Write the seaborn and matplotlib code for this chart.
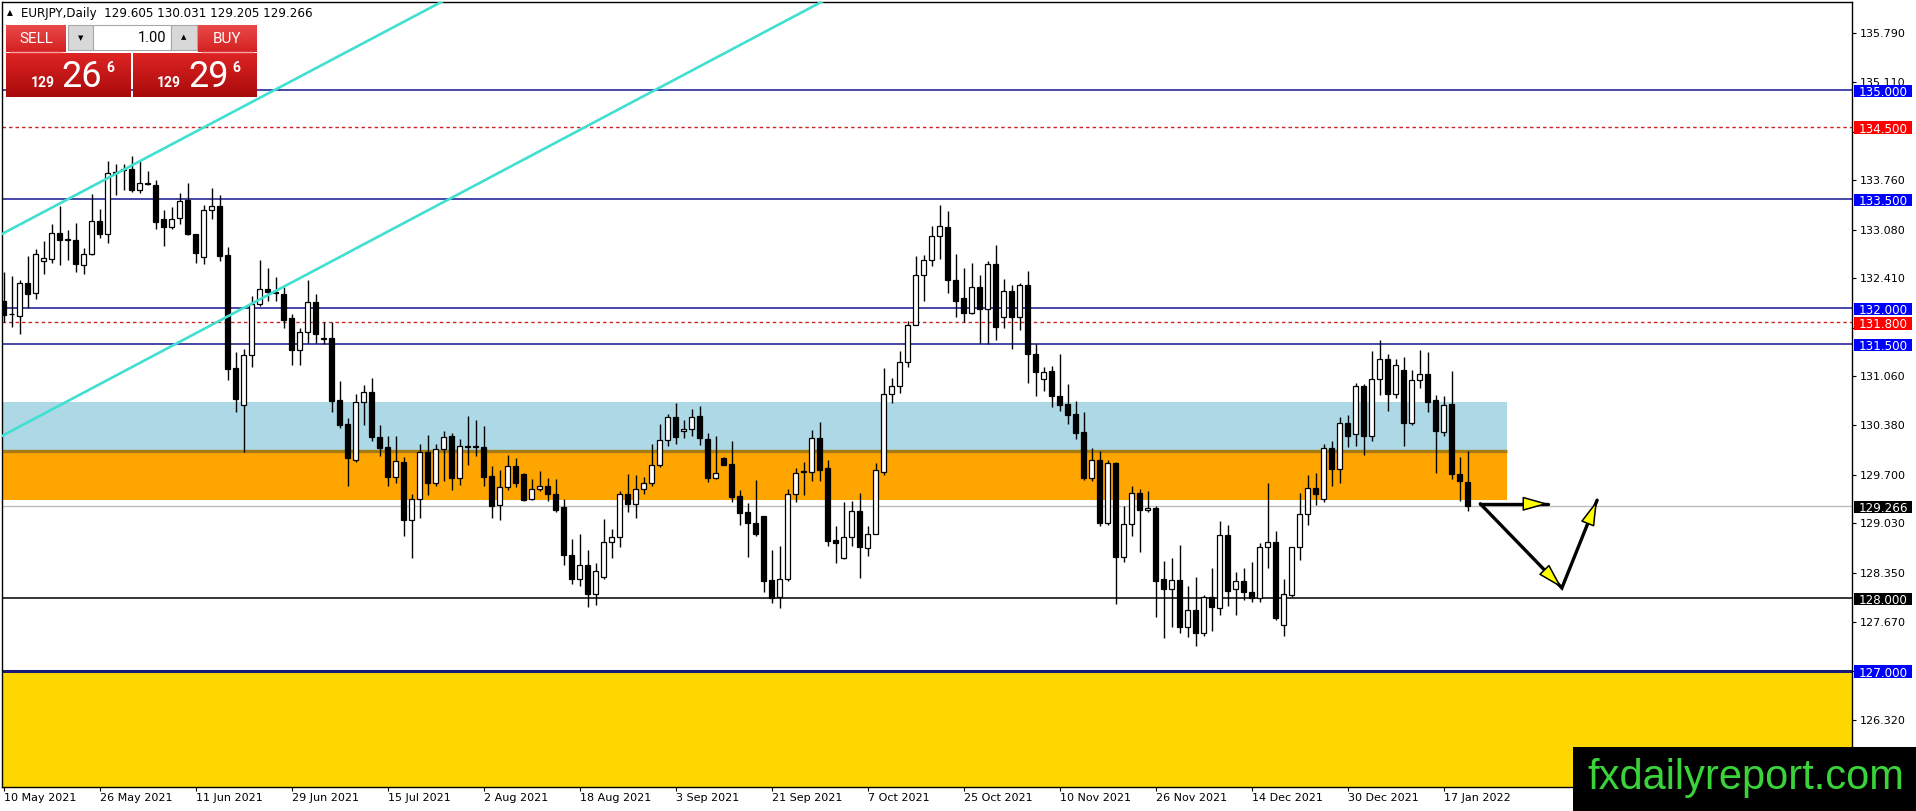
import numpy as np
import pandas as pd
import matplotlib
matplotlib.use("Agg")
import matplotlib.pyplot as plt
import seaborn as sns
from matplotlib.patches import Rectangle
from matplotlib.transforms import blended_transform_factory
from matplotlib.colors import LinearSegmentedColormap

# ---------------- data (EURJPY daily) ----------------
opens = [
    132.10, 131.92, 131.89, 132.34, 132.20, 132.64, 132.68, 133.03, 132.95, 132.94,
    132.59, 132.74, 133.20, 133.02, 133.87, 133.90, 133.92, 133.62, 133.72, 133.70,
    133.23, 133.11, 133.24, 133.49, 133.02, 132.70, 133.35, 133.41, 132.73, 131.17,
    130.66, 131.35, 132.05, 132.26, 132.22, 132.19, 131.86, 131.42, 131.67, 132.08,
    131.59, 131.58, 130.73, 130.40, 129.91, 130.71, 130.84, 130.22, 130.08, 129.67,
    129.87, 129.07, 129.36, 130.02, 129.58, 130.05, 130.23, 129.66, 130.09, 130.09,
    130.08, 129.68, 129.29, 129.53, 129.82, 129.71, 129.36, 129.51, 129.55, 129.44,
    129.26, 128.59, 128.26, 128.45, 128.05, 128.29, 128.77, 128.84, 129.43, 129.30,
    129.51, 129.58, 129.84, 130.18, 130.49, 130.30, 130.33, 130.51, 130.19, 129.66,
    129.93, 129.85, 129.41, 129.18, 129.03, 129.13, 128.25, 128.01, 128.26, 129.44,
    129.75, 129.74, 130.20, 129.79, 128.80, 128.55, 128.84, 129.20, 128.69, 128.89,
    129.74, 130.82, 130.92, 131.25, 131.77, 132.45, 132.66, 132.99, 133.11, 132.39,
    132.13, 131.93, 132.29, 131.99, 132.61, 131.87, 132.23, 131.88, 132.31, 131.36,
    131.02, 131.13, 130.79, 130.67, 130.54, 130.29, 129.66, 129.91, 129.03, 129.86,
    128.57, 129.02, 129.45, 129.21, 129.24, 128.27, 128.12, 128.25, 127.60, 127.83,
    127.52, 128.01, 127.87, 128.87, 128.12, 128.23, 128.08, 128.00, 128.71, 128.77,
    127.63, 128.04, 128.70, 129.16, 129.52, 129.36, 130.07, 129.78, 130.41, 130.26,
    130.93, 130.23, 131.02, 131.29, 130.81, 131.15, 130.41, 131.00, 131.09, 130.73,
    130.29, 130.67, 129.71, 129.605]
highs = [
    132.49, 132.44, 132.39, 132.71, 132.81, 132.92, 133.16, 133.40, 133.07, 133.17,
    132.82, 133.57, 133.37, 134.03, 133.98, 133.98, 134.10, 134.03, 133.89, 133.76,
    133.35, 133.39, 133.59, 133.72, 133.02, 133.42, 133.65, 133.56, 132.84, 131.39,
    131.44, 132.17, 132.66, 132.55, 132.43, 132.29, 131.92, 131.73, 132.39, 132.19,
    131.81, 131.81, 130.99, 130.48, 130.82, 130.94, 131.03, 130.38, 130.23, 130.23,
    129.95, 129.44, 130.13, 130.25, 130.13, 130.30, 130.27, 130.19, 130.51, 130.46,
    130.37, 129.82, 129.77, 129.97, 129.93, 129.72, 129.64, 129.75, 129.65, 129.64,
    129.37, 128.82, 128.89, 128.66, 128.48, 129.09, 128.95, 129.48, 129.71, 129.70,
    129.67, 130.12, 130.40, 130.54, 130.69, 130.45, 130.61, 130.65, 130.27, 130.23,
    129.94, 130.16, 129.49, 129.31, 129.63, 129.13, 128.66, 128.72, 129.50, 129.80,
    129.88, 130.32, 130.43, 129.91, 128.99, 129.32, 129.34, 129.45, 128.99, 129.86,
    131.17, 131.03, 131.40, 131.82, 132.72, 132.73, 133.13, 133.42, 133.33, 132.74,
    132.55, 132.62, 132.45, 132.65, 132.87, 132.40, 132.32, 132.35, 132.51, 131.50,
    131.19, 131.20, 131.37, 130.95, 130.72, 130.56, 130.07, 130.03, 129.90, 129.88,
    129.27, 129.55, 129.51, 129.48, 129.27, 128.51, 128.55, 128.73, 128.17, 128.29,
    128.04, 128.41, 129.06, 129.01, 128.36, 128.41, 128.50, 128.76, 129.59, 128.93,
    128.26, 128.70, 129.45, 129.70, 129.72, 130.13, 130.17, 130.50, 130.53, 130.97,
    130.95, 131.41, 131.56, 131.37, 131.30, 131.32, 131.15, 131.42, 131.39, 130.80,
    130.79, 131.13, 129.94, 130.031]
lows = [
    131.81, 131.74, 131.64, 132.00, 132.12, 132.47, 132.62, 132.59, 132.66, 132.50,
    132.47, 132.73, 132.96, 132.89, 133.56, 133.62, 133.60, 133.59, 133.69, 133.09,
    132.85, 133.09, 133.16, 133.01, 132.62, 132.61, 133.23, 132.65, 131.01, 130.57,
    130.01, 131.18, 132.03, 132.09, 132.09, 131.72, 131.22, 131.22, 131.51, 131.51,
    131.50, 130.57, 130.34, 129.55, 129.87, 130.39, 130.16, 129.96, 129.55, 129.58,
    128.85, 128.55, 129.11, 129.42, 129.54, 129.61, 129.49, 129.56, 129.83, 129.96,
    129.55, 129.11, 129.08, 129.49, 129.53, 129.34, 129.35, 129.47, 129.34, 129.18,
    128.45, 128.19, 128.17, 127.88, 127.91, 128.26, 128.55, 128.71, 129.18, 129.10,
    129.43, 129.54, 129.81, 130.10, 130.12, 130.20, 130.24, 130.11, 129.60, 129.64,
    129.83, 129.32, 129.01, 128.56, 128.85, 128.09, 127.93, 127.87, 128.24, 129.33,
    129.42, 129.61, 129.62, 128.72, 128.49, 128.54, 128.72, 128.28, 128.58, 128.88,
    129.69, 130.69, 130.83, 131.19, 131.76, 132.09, 132.58, 132.68, 132.20, 131.87,
    131.80, 131.92, 131.52, 131.50, 131.56, 131.73, 131.43, 131.69, 130.97, 130.78,
    130.85, 130.63, 130.58, 130.40, 130.19, 129.63, 129.61, 128.99, 129.01, 127.92,
    128.50, 128.85, 128.64, 129.19, 127.74, 127.45, 127.60, 127.52, 127.46, 127.34,
    127.48, 127.55, 127.77, 127.89, 127.77, 127.97, 127.94, 127.94, 128.41, 127.70,
    127.48, 128.02, 128.52, 129.01, 129.28, 129.32, 129.55, 129.59, 130.08, 130.10,
    129.97, 130.17, 130.80, 130.58, 130.76, 130.10, 130.38, 130.90, 130.56, 129.73,
    130.24, 129.64, 129.34, 129.205]
closes = [
    131.90, 131.91, 132.34, 132.19, 132.75, 132.69, 133.03, 132.93, 132.94, 132.60,
    132.75, 133.20, 133.02, 133.86, 133.86, 133.91, 133.62, 133.72, 133.71, 133.18,
    133.11, 133.23, 133.48, 133.02, 132.76, 133.35, 133.41, 132.72, 131.16, 130.75,
    131.35, 132.05, 132.26, 132.22, 132.20, 131.84, 131.42, 131.67, 132.08, 131.64,
    131.57, 130.72, 130.39, 129.93, 130.71, 130.84, 130.22, 130.07, 129.67, 129.89,
    129.07, 129.36, 130.02, 129.58, 130.05, 130.22, 129.66, 130.10, 130.08, 130.08,
    129.67, 129.27, 129.53, 129.82, 129.58, 129.35, 129.51, 129.55, 129.44, 129.21,
    128.59, 128.26, 128.45, 128.05, 128.37, 128.77, 128.84, 129.43, 129.30, 129.51,
    129.58, 129.84, 130.18, 130.49, 130.22, 130.33, 130.50, 130.20, 129.66, 129.73,
    129.84, 129.40, 129.17, 129.03, 128.89, 128.23, 128.00, 128.26, 129.44, 129.72,
    129.74, 130.20, 129.77, 128.79, 128.76, 128.84, 129.20, 128.70, 128.89, 129.76,
    130.82, 130.92, 131.25, 131.77, 132.46, 132.66, 132.99, 133.13, 132.39, 132.09,
    131.93, 132.29, 131.99, 132.61, 131.74, 132.23, 131.88, 132.31, 131.36, 131.12,
    131.12, 130.79, 130.66, 130.52, 130.28, 129.66, 129.91, 129.03, 129.86, 128.56,
    129.02, 129.45, 129.21, 129.24, 128.24, 128.12, 128.25, 127.60, 127.83, 127.52,
    128.01, 127.88, 128.87, 128.10, 128.23, 128.08, 128.00, 128.71, 128.77, 127.73,
    128.05, 128.70, 129.16, 129.52, 129.44, 130.07, 129.78, 130.41, 130.24, 130.93,
    130.23, 131.02, 131.29, 130.81, 131.21, 130.42, 131.00, 131.09, 130.71, 130.30,
    130.66, 129.71, 129.61, 129.266]

date_labels = ["10 May 2021", "26 May 2021", "11 Jun 2021", "29 Jun 2021",
               "15 Jul 2021", "2 Aug 2021", "18 Aug 2021", "3 Sep 2021",
               "21 Sep 2021", "7 Oct 2021", "25 Oct 2021", "10 Nov 2021",
               "26 Nov 2021", "14 Dec 2021", "30 Dec 2021", "17 Jan 2022"]
price_ticks = [135.790, 135.110, 134.430, 133.760, 133.080, 132.410, 131.730,
               131.060, 130.380, 129.700, 129.030, 128.350, 127.670, 126.990,
               126.320]
# tick labels that sit fully behind a level label on the price scale
covered_ticks = [134.430, 131.730, 126.990]

blue_levels = [135.0, 133.5, 132.0, 131.5]
red_levels = [134.5, 131.8]
black_level = 128.0
support_level = 127.0
last_price = 129.266

blue_zone = (130.03, 130.70)
orange_zone = (129.35, 130.03)
zone_end_bar = 187.9

channel_upper = ([-0.44, 55.2], [133.005, 136.245])
channel_lower = ([-0.44, 102.7], [130.221, 136.245])

arrow_start = (184.6, 129.30)
arrow_right_tip = (193.1, 129.30)
arrow_down_tip = (194.8, 128.14)
arrow_up_tip = (199.2, 129.35)

header = "EURJPY,Daily  129.605 130.031 129.205 129.266"

# ---------------- figure ----------------
sns.set_theme(style="white")
plt.rcParams["font.family"] = ["DejaVu Sans"]

W, H = 1916, 811
fig = plt.figure(figsize=(W / 100, H / 100), dpi=100)
fig.patch.set_facecolor("white")
ax = fig.add_axes([2 / W, 1 - 787 / H, 1850 / W, 785 / H])
ax.set_facecolor("white")

df = pd.DataFrame(dict(o=opens, h=highs, l=lows, c=closes))
df["x"] = np.arange(len(df))
YLO, YHI = 125.396, 136.217
XLO, XHI = -0.1875, 231.0625

# zones
ax.axhspan(YLO - 1, support_level, color="#FFD700", lw=0, zorder=0.2)
ax.fill_between([XLO - 1, zone_end_bar], blue_zone[0], blue_zone[1],
                color="#ADD8E6", lw=0, zorder=0.4)
ax.fill_between([XLO - 1, zone_end_bar], orange_zone[0], orange_zone[1],
                color="#FFA500", lw=0, zorder=0.5)
ax.plot([XLO - 1, zone_end_bar], [orange_zone[1]] * 2, color="#A87C14",
        lw=2.4, zorder=0.6, solid_capstyle="butt")

# horizontal levels
for lv in blue_levels:
    ax.axhline(lv, color="#15158F", lw=1.1, zorder=1)
for lv in red_levels:
    ax.axhline(lv, color="#CC2626", lw=1.0, ls=(0, (2.5, 2.2)), zorder=1)
ax.axhline(black_level, color="black", lw=1.1, zorder=1)
ax.axhline(support_level, color="#1A1A78", lw=2.2, zorder=1)
ax.axhline(last_price, color="#BDBDBD", lw=1.0, zorder=1)

# candles
ax.vlines(df["x"], df["l"], df["h"], color="black", lw=1.0, zorder=3)
bottoms = np.minimum(df["o"], df["c"])
heights = np.maximum(np.abs(df["c"] - df["o"]), 0.004)
colors = np.where(df["c"] >= df["o"], "white", "black")
ax.bar(df["x"], heights, bottom=bottoms, width=0.58, color=colors,
       edgecolor="black", linewidth=0.9, zorder=4)

# channel lines
sns.lineplot(x=channel_upper[0], y=channel_upper[1], ax=ax,
             color="#40E0D0", lw=1.9, zorder=5)
sns.lineplot(x=channel_lower[0], y=channel_lower[1], ax=ax,
             color="#40E0D0", lw=1.9, zorder=5)

# forecast arrows
ax.plot([arrow_start[0], arrow_right_tip[0]], [arrow_start[1], arrow_right_tip[1]],
        color="black", lw=2.4, zorder=6, solid_capstyle="round")
ax.plot([arrow_start[0], arrow_down_tip[0], arrow_up_tip[0]],
        [arrow_start[1], arrow_down_tip[1], arrow_up_tip[1]],
        color="black", lw=2.4, zorder=6, solid_joinstyle="miter")
for tip, base in [(arrow_right_tip, arrow_start), (arrow_down_tip, arrow_start),
                  (arrow_up_tip, arrow_down_tip)]:
    ax.annotate("", xy=tip, xytext=base, zorder=7,
                arrowprops=dict(arrowstyle="-|>,head_length=1.6,head_width=0.45",
                                fc="#FFFF00", ec="black", lw=1.1,
                                shrinkA=0, shrinkB=0, mutation_scale=10))

# axes styling
ax.set_xlim(XLO, XHI)
ax.set_ylim(YLO, YHI)
ax.set_xlabel("")
ax.set_ylabel("")
ax.grid(False)
for s in ax.spines.values():
    s.set_color("black")
    s.set_linewidth(1.0)
ax.yaxis.tick_right()
ax.set_yticks(price_ticks)
ax.set_yticklabels(["" if p in covered_ticks else f"{p:.3f}" for p in price_ticks])
ax.set_xticks(np.arange(0, 12 * len(date_labels), 12))
ax.set_xticklabels(date_labels, ha="left")
ax.tick_params(axis="y", which="both", left=False, labelleft=False, right=True,
               labelright=True, direction="out", length=3, width=0.8, pad=2.5,
               labelsize=8, colors="black")
ax.tick_params(axis="x", which="both", bottom=True, labelbottom=True,
               direction="out", length=3, width=0.8, pad=1.5, labelsize=8,
               colors="black")

# price label boxes on the right axis
trans = blended_transform_factory(ax.transAxes, ax.transData)
px = (YHI - YLO) / 785.0
label_specs = ([(lv, "#0000FF") for lv in blue_levels] +
               [(lv, "#FF0000") for lv in red_levels] +
               [(black_level, "black"), (support_level, "#0000FF"),
                (last_price, "black")])
for lv, col in label_specs:
    ax.add_patch(Rectangle((1 + 2 / 1850, lv - 7.2 * px), 58 / 1850, 12.6 * px,
                           transform=trans, facecolor=col, edgecolor="none",
                           clip_on=False, zorder=10))
    ax.text(1 + 7 / 1850, lv - 1.0 * px, f"{lv:.3f}", transform=trans,
            color="white", fontsize=8.6, ha="left", va="center_baseline",
            clip_on=False, zorder=11)

# ---------------- overlay: header, trade panel, watermark ----------------
ui = fig.add_axes([0, 0, 1, 1])
ui.set_zorder(10)
ui.patch.set_alpha(0)
ui.axis("off")


def grad(x0, y0, x1, y1, ctop, cbot):
    cm = LinearSegmentedColormap.from_list("g", [ctop, cbot])
    ui.imshow(np.linspace(0, 1, 64).reshape(-1, 1), extent=(x0, x1, y1, y0),
              cmap=cm, aspect="auto", origin="upper", interpolation="bilinear",
              zorder=2)


ui.text(7, 13, "▲", fontsize=5.5, color="black", va="center", ha="left")
ui.text(21, 13, header, fontsize=8.6, color="black", va="center", ha="left")

# buttons
grad(6, 25, 66, 52, "#EA4A4A", "#D42020")
grad(198, 25, 257, 52, "#EA4A4A", "#D42020")
ui.plot([10, 62], [51.5, 51.5], color="#F7A0A0", lw=1, zorder=3)
ui.plot([202, 253], [51.5, 51.5], color="#F7A0A0", lw=1, zorder=3)
ui.add_patch(Rectangle((68, 25), 25, 25, fc="#D8D8D8", ec="#A8A8A8", lw=0.8, zorder=2))
ui.add_patch(Rectangle((93, 25), 78, 25, fc="white", ec="#A8A8A8", lw=0.8, zorder=2))
ui.add_patch(Rectangle((171, 25), 26, 25, fc="#D8D8D8", ec="#A8A8A8", lw=0.8, zorder=2))
ui.text(80.5, 38, "▼", fontsize=5, color="black", ha="center", va="center", zorder=4)
ui.text(184, 37.5, "▲", fontsize=5, color="black", ha="center", va="center", zorder=4)
ui.text(166, 38.5, "1.00", fontsize=10.5, family=["Roboto", "DejaVu Sans"],
        color="black", ha="right", va="center", zorder=4)
ui.text(36, 39, "SELL", fontsize=11, family=["Roboto", "DejaVu Sans"],
        color="white", ha="center", va="center", zorder=4)
ui.text(227.5, 39, "BUY", fontsize=11, family=["Roboto", "DejaVu Sans"],
        color="white", ha="center", va="center", zorder=4)

# big price boxes
grad(6, 53, 131, 97, "#DE2424", "#A80A0A")
grad(133, 53, 257, 97, "#DE2424", "#A80A0A")
for x_small, x_big, x_sup, big in [(31, 61, 106, "26"), (157, 188, 232, "29")]:
    ui.text(x_small, 87, "129", fontsize=10, fontweight="bold",
            family=["Roboto", "DejaVu Sans"], color="white", ha="left",
            va="baseline", zorder=4)
    ui.text(x_big, 87, big, fontsize=26, family=["Roboto", "DejaVu Sans"],
            color="white", ha="left", va="baseline", zorder=4)
    ui.text(x_sup, 61, "6", fontsize=10, fontweight="bold",
            family=["Roboto", "DejaVu Sans"], color="white", ha="left",
            va="top", zorder=4)

# watermark
ui.add_patch(Rectangle((1573, 747), W - 1573, H - 747, fc="black", ec="none", zorder=2))
ui.text(1587, 789, "fxdailyreport.com", fontsize=30,
        family=["Liberation Sans", "DejaVu Sans"], color="#3AD43A",
        ha="left", va="baseline", zorder=3)

ui.set_xlim(0, W)
ui.set_ylim(H, 0)

fig.savefig("out.png", dpi=100)
